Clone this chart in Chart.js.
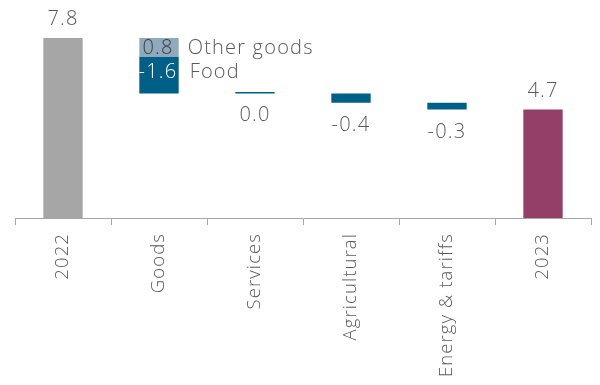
<!DOCTYPE html>
<html><head><meta charset="utf-8">
<script src="https://cdn.jsdelivr.net/npm/chart.js@4/dist/chart.umd.min.js"></script>
<style>html,body{margin:0;padding:0;background:#fff}#wrap{width:600px;height:385px;position:relative}</style>
</head><body><div id="wrap"><canvas id="c"></canvas></div>
<script>
// ---- data ----
const categories = ['2022', 'Goods', 'Services', 'Agricultural', 'Energy & tariffs', '2023'];
const startValue = 7.8;                 // 2022
const endValue = 4.7;                   // 2023
const goodsParts = ['Other goods', 'Food'];
const goodsValues = [-0.8, -1.6];       // contributions inside "Goods"
const goodsLabels = ['0.8', '-1.6'];    // text shown on the segments
const otherChanges = [0.0, -0.4, -0.3]; // Services, Agricultural, Energy & tariffs

// ---- build floating-bar datasets ----
const n = categories.length;
const empty = () => new Array(n).fill(null);
const totalsData = empty();
totalsData[0] = [0, startValue];
totalsData[n - 1] = [0, endValue];

const otherGoodsData = empty();
const foodData = empty();
let running = startValue;
otherGoodsData[1] = [running + goodsValues[0], running];
running += goodsValues[0];
foodData[1] = [running + goodsValues[1], running];
running += goodsValues[1];

const changeData = empty();
otherChanges.forEach((c, i) => {
  const a = running, b = running + c;
  changeData[2 + i] = [Math.min(a, b), Math.max(a, b)];
  running = b;
});

const TXT = '#595959';
const FAM = "'Open Sans', sans-serif";

const labelPlugin = {
  id: 'labels',
  beforeInit(chart) { chart.ctx.letterSpacing = '1.1px'; },
  beforeDraw(chart) { chart.ctx.letterSpacing = '1.1px'; },
  afterDatasetsDraw(chart) {
    const ctx = chart.ctx;
    ctx.save();
    ctx.letterSpacing = '1.2px';
    ctx.font = '300 20px ' + FAM;
    ctx.textAlign = 'center';
    ctx.textBaseline = 'alphabetic';
    ctx.fillStyle = TXT;
    // totals
    const mT = chart.getDatasetMeta(0);
    [0, n - 1].forEach(i => {
      const el = mT.data[i];
      const v = i === 0 ? startValue : endValue;
      ctx.fillText(v.toFixed(1), el.x, Math.min(el.y, el.base) - 13);
    });
    // changes
    const mC = chart.getDatasetMeta(3);
    otherChanges.forEach((c, i) => {
      const el = mC.data[2 + i];
      const bottom = Math.max(el.y, el.base);
      ctx.fillText(c.toFixed(1), el.x, bottom + 28);
    });
    // goods segments
    [1, 2].forEach((d, k) => {
      const el = chart.getDatasetMeta(d).data[1];
      const top = Math.min(el.y, el.base), bot = Math.max(el.y, el.base);
      const left = el.x - el.width / 2, right = el.x + el.width / 2;
      const cy = k === 0 ? (top + bot) / 2 : top + 15;
      ctx.save();
      ctx.beginPath();
      ctx.rect(left, top, el.width, bot - top);
      ctx.clip();
      ctx.textBaseline = 'middle';
      ctx.fillStyle = k === 0 ? '#404040' : '#ffffff';
      ctx.fillText(goodsLabels[k], el.x - 1, cy + 1);
      ctx.restore();
      ctx.textAlign = 'left';
      ctx.textBaseline = 'middle';
      ctx.fillStyle = TXT;
      ctx.fillText(goodsParts[k], right + 9 + k * 2, cy + 1);
      ctx.textAlign = 'center';
      ctx.textBaseline = 'alphabetic';
    });
    ctx.restore();
  }
};

new Chart(document.getElementById('c'), {
  type: 'bar',
  data: {
    labels: categories,
    datasets: [
      { label: 'Total', data: totalsData, backgroundColor: ['#a6a6a6', null, null, null, null, '#943f67'] },
      { label: goodsParts[0], data: otherGoodsData, backgroundColor: '#8eaabc' },
      { label: goodsParts[1], data: foodData, backgroundColor: '#005f87' },
      { label: 'Change', data: changeData, backgroundColor: '#005f87', minBarLength: 1.5 }
    ]
  },
  options: {
    responsive: true,
    maintainAspectRatio: false,
    animation: false,
    devicePixelRatio: 1,
    barPercentage: 0.41,
    categoryPercentage: 1,
    layout: { padding: { left: 15, right: 9, top: 0, bottom: 0 } },
    plugins: { legend: { display: false }, tooltip: { enabled: false } },
    scales: {
      x: {
        stacked: true,
        offset: true,
        afterFit(scale) { scale.height = 167; },
        grid: { offset: true, drawOnChartArea: false, drawTicks: true, tickLength: 7, color: '#a6a6a6', lineWidth: 1 },
        border: { display: true, color: '#a6a6a6', width: 1 },
        ticks: { autoSkip: false, minRotation: 90, maxRotation: 90, padding: 8, color: TXT, font: { family: FAM, size: 18.5, weight: '300' } }
      },
      y: { stacked: false, display: false, min: 0, max: 9.45 }
    }
  },
  plugins: [labelPlugin]
});
</script>
</body></html>
